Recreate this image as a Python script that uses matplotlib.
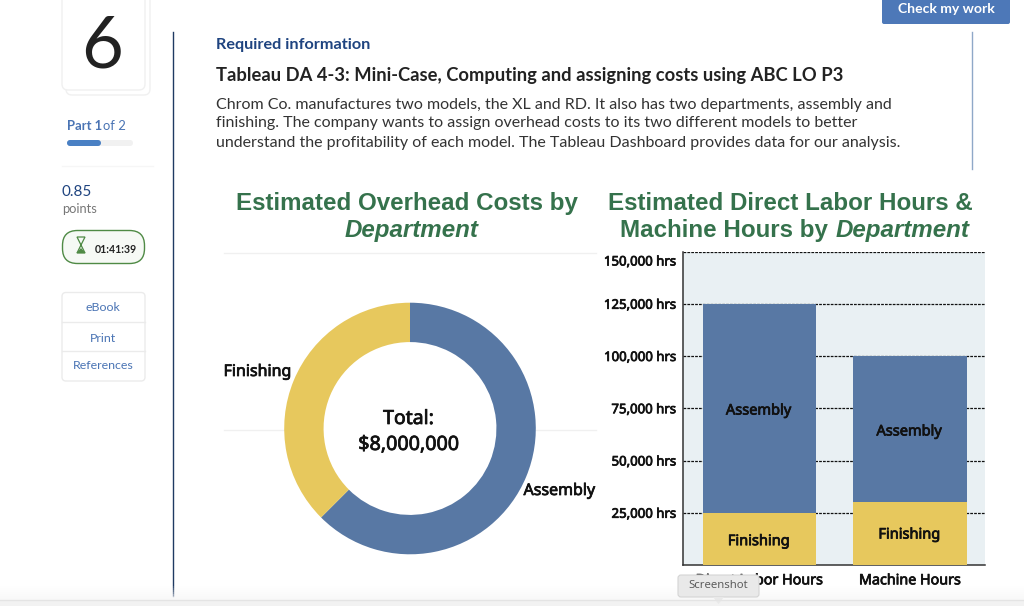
import matplotlib
matplotlib.use("Agg")
import matplotlib.pyplot as plt
import matplotlib.patheffects as pe
from matplotlib.patches import FancyBboxPatch, Rectangle, Polygon
from matplotlib.lines import Line2D
from matplotlib.transforms import ScaledTranslation

W, H = 1024, 606

departments = ["Assembly", "Finishing"]
overhead_costs = [5000000, 3000000]
hour_types = ["Direct Labor Hours", "Machine Hours"]
finishing_hours = [25000, 30000]
assembly_hours = [100000, 70000]
hour_ticks = [25000, 50000, 75000, 100000, 125000, 150000]

BLUE = "#5878A4"
YELLOW = "#E7C85D"
GREEN = "#35724C"
NAVY = "#1F4480"
LINK = "#4A74B4"
SANS = ["Open Sans", "DejaVu Sans"]
ARIAL = ["Liberation Sans", "DejaVu Sans"]
UI = ["Lato", "DejaVu Sans"]
TS = ["Noto Sans", "DejaVu Sans"]
HEAVY = [pe.withStroke(linewidth=0.55, foreground="#111111")]

fig = plt.figure(figsize=(W / 100, H / 100), dpi=100, facecolor="white")


def fx(x):
    return x / W


def fy(y):
    return 1 - y / H


def txt(x, y, s, size, color="#222222", weight="normal", ha="left", va="center", family=UI, style="normal"):
    return fig.text(fx(x), fy(y), s, fontsize=size, color=color, fontweight=weight, ha=ha, va=va,
                    family=family, style=style)


def heavy(x, y, s, size, ha="center"):
    return txt(x, y, s, size, color="#111111", ha=ha, family=TS).set_path_effects(HEAVY)


bg = fig.add_axes([0, 0, 1, 1])
bg.set_xlim(0, W)
bg.set_ylim(0, H)
bg.axis("off")


def box(x0, y0, x1, y1, fc="white", ec="#E8E8E8", r=4, lw=1, z=1):
    p = FancyBboxPatch((x0, H - y1), x1 - x0, y1 - y0, boxstyle=f"round,pad=0,rounding_size={r}",
                       fc=fc, ec=ec, lw=lw, zorder=z)
    bg.add_patch(p)


def hline(x0, x1, y, color, lw=1, z=1):
    bg.add_line(Line2D([x0, x1], [H - y, H - y], color=color, lw=lw, zorder=z))


def vline(x, y0, y1, color, lw=1, z=1):
    bg.add_line(Line2D([x, x], [H - y0, H - y1], color=color, lw=lw, zorder=z))


# ---- left rail ----
box(66, -10, 150, 95, ec="#F0F0F0", r=6)
box(62, -10, 145, 90, ec="#F0F0F0", r=6, z=2)
fig.text(fx(102.5), fy(68), "6", fontsize=52, color="#222222", ha="center", va="baseline", family=UI)
txt(67, 126, "Part 1", 9.4, color=LINK, weight="bold")
txt(103, 126, "of 2", 9.4, color=LINK)
box(67, 140, 133, 146, fc="#F1F1F1", ec="none", r=3)
box(67, 140, 101, 146, fc="#4A80C4", ec="none", r=3, z=2)
hline(62, 153, 166, "#F6F6F6")
txt(62, 192, "0.85", 11, color=NAVY)
txt(62, 209, "points", 9.3, color="#777777")
box(62.5, 230.5, 144.5, 263.5, fc="#F6F9F5", ec="#4F8A45", r=15)
txt(95, 249.5, "01:41:39", 7.6, color="#222222", weight="bold")
bg.add_patch(Polygon([(77, H - 237), (85, H - 237), (81, H - 245), (85, H - 253), (77, H - 253), (81, H - 245)],
                     closed=True, fc="none", ec="#4F8A45", lw=0.9, zorder=3))
bg.add_patch(Polygon([(76.5, H - 253), (85.5, H - 253), (81, H - 248)], closed=True, fc="#4F8A45", ec="none", zorder=3))
box(62, 292.5, 145, 381, ec="#EBEBEB", r=4)
hline(62, 145, 322, "#EBEBEB", z=2)
hline(62, 145, 351, "#EBEBEB", z=2)
txt(103, 307.5, "eBook", 8.9, color=LINK, ha="center")
txt(103, 338.5, "Print", 8.9, color=LINK, ha="center")
txt(103, 365.5, "References", 8.9, color=LINK, ha="center")
vline(173, 32, 596, "#1F3A62", lw=1)

# ---- header ----
box(882, -8, 1010, 24, fc="#4D78B8", ec="none", r=2)
txt(946, 9, "Check my work", 10.1, color="white", weight="bold", ha="center")
vline(972, 32, 169, "#8FA8C8", lw=1)
txt(216, 45, "Required information", 11.7, color=NAVY, weight="bold")
txt(216, 75.5, "Tableau DA 4-3: Mini-Case, Computing and assigning costs using ABC LO P3", 13.25,
    color="#222222", weight="bold")
txt(216, 105, "Chrom Co. manufactures two models, the XL and RD. It also has two departments, assembly and", 11.55, color="#333333")
txt(216, 123.5, "finishing. The company wants to assign overhead costs to its two different models to better", 11.55, color="#333333")
txt(216, 142.5, "understand the profitability of each model. The Tableau Dashboard provides data for our analysis.", 11.55, color="#333333")

# ---- panel titles ----
TSIZE = 17.4
txt(407, 203.5, "Estimated Overhead Costs by", TSIZE, color=GREEN, weight="bold", ha="center", family=ARIAL)
txt(412, 230, "Department", TSIZE, color=GREEN, weight="bold", ha="center", family=ARIAL, style="italic")
txt(790.5, 203.5, "Estimated Direct Labor Hours &", TSIZE, color=GREEN, weight="bold", ha="center", family=ARIAL)
txt(620, 230, "Machine Hours by", TSIZE, color=GREEN, weight="bold", family=ARIAL)
txt(835.5, 230, "Department", TSIZE, color=GREEN, weight="bold", family=ARIAL, style="italic")

# faint separators of the donut sheet (hidden inside the ring)
hline(224, 596, 252.5, "#F0F0F0")
hline(224, 290, 429.5, "#F0F0F0")
hline(530, 596, 429.5, "#F0F0F0")

# ---- donut ----
R = 125.8
cx, cy = 410, 428.5
pie_ax = fig.add_axes([fx(cx - R), fy(cy + R), 2 * R / W, 2 * R / H])
pie_ax.pie(overhead_costs, colors=[BLUE, YELLOW], startangle=90, counterclock=False, radius=1,
           wedgeprops=dict(width=0.313, linewidth=0))
pie_ax.set_xlim(-1, 1)
pie_ax.set_ylim(-1, 1)
pie_ax.set_aspect("auto")
pie_ax.axis("off")
heavy(408.5, 419, "Total:", 14)
heavy(409, 445, "$8,000,000", 14.2)
heavy(257.5, 372, departments[1], 11.5)
heavy(559.5, 491, departments[0], 11.5)

# ---- stacked bars ----
ax = fig.add_axes([fx(683), fy(565), (985 - 683) / W, (565 - 251.5) / H], facecolor="#E9F0F3")
xs = list(range(len(hour_types)))
ax.bar(xs, finishing_hours, width=0.755, color=YELLOW, zorder=3)
ax.bar(xs, assembly_hours, width=0.755, bottom=finishing_hours, color=BLUE, zorder=3)
ax.set_xlim(-0.508, 1.498)
ax.set_ylim(0, 150000)
ax.set_yticks(hour_ticks)
ax.set_yticklabels([f"{v:,} hrs" for v in hour_ticks], fontsize=9.5, color="#111111", family=TS)
ax.tick_params(axis="y", length=0, pad=5)
ax.tick_params(axis="x", length=0, pad=6)
ax.set_xticks(xs)
ax.set_xticklabels(hour_types, fontsize=10.3, color="#111111", family=TS)
for lab in ax.get_yticklabels() + ax.get_xticklabels():
    lab.set_path_effects(HEAVY)
top_label = ax.get_yticklabels()[-1]
top_label.set_transform(top_label.get_transform() + ScaledTranslation(0, -9 / 100, fig.dpi_scale_trans))
ax.grid(axis="y", color="#111111", ls=(0, (2.2, 0.9)), lw=0.9, zorder=1)
ax.set_axisbelow(True)
for s in ["top", "right"]:
    ax.spines[s].set_visible(False)
for s in ["left", "bottom"]:
    ax.spines[s].set_color("#333333")
    ax.spines[s].set_linewidth(1.1)
for i, (f, a) in enumerate(zip(finishing_hours, assembly_hours)):
    for label, yv, dy in ((departments[1], f / 2, -2 if i == 0 else -1),
                          (departments[0], f + a / 2 if i else 75000, -2)):
        ax.annotate(label, (i - 0.005, yv), xytext=(0, dy), textcoords="offset points", ha="center", va="center",
                    fontsize=10.5, color="#111111", family=TS, zorder=4, path_effects=HEAVY)

# ---- bottom chrome ----
top = fig.add_axes([0, 0, 1, 1])
top.set_xlim(0, W)
top.set_ylim(0, H)
top.axis("off")
top.patch.set_alpha(0)
for k, a in enumerate([0.1, 0.2, 0.3, 0.4, 0.55, 0.7, 0.85]):
    top.add_patch(Rectangle((0, 6 + (6 - k) * 2), W, 2, fc="#F7F7F7", ec="none", alpha=a))
top.add_patch(Rectangle((0, 0), W, 6, fc="#F2F2F2", ec="none"))
top.add_line(Line2D([0, W], [6, 6], color="#E4E4E4", lw=1))
top.add_patch(FancyBboxPatch((678, H - 597), 81, 22, boxstyle="round,pad=0,rounding_size=3", fc="#E9E9E9", ec="#D4D4D4", lw=0.8))
top.add_patch(Polygon([(713, H - 597), (724, H - 597), (718.5, H - 604)], closed=True, fc="#E9E9E9", ec="none"))
top.text(718.5, H - 586, "Screenshot", fontsize=8.2, color="#555555", ha="center", va="center", family=SANS)

fig.savefig("out.png", dpi=100, facecolor="white")
